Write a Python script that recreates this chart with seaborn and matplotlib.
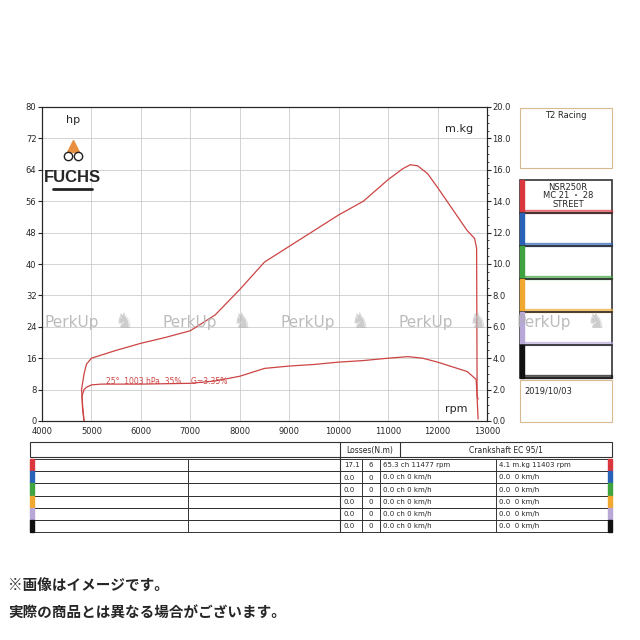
import matplotlib
matplotlib.use("Agg")
import matplotlib.pyplot as plt
import seaborn as sns
from matplotlib.patches import Rectangle

sns.set_style("white")
plt.rcParams['font.family'] = ['DejaVu Sans', 'Noto Sans CJK JP']

power_rpm = [4850, 4820, 4800, 4850, 4900, 5000, 5500, 6000, 6500, 7000, 7500, 8000, 8500, 9000, 9500,
             10000, 10500, 11000, 11300, 11450, 11600, 11800, 12000, 12300, 12600, 12750, 12790, 12800, 12820]
power_hp = [0, 4, 8, 12, 14.5, 16, 18, 19.8, 21.3, 23, 27, 33.5, 40.5, 44.5, 48.5,
            52.5, 56, 61.5, 64.3, 65.3, 65, 63, 59.5, 54, 48.5, 46.5, 44, 6, 0.5]
torque_rpm = [4850, 4820, 4810, 4850, 4900, 5000, 5200, 6000, 7000, 7500, 8000, 8500, 9000, 9500,
              10000, 10500, 11000, 11400, 11700, 12000, 12300, 12600, 12780, 12800, 12820]
torque_mkg = [0, 0.8, 1.6, 2.0, 2.15, 2.3, 2.35, 2.35, 2.4, 2.55, 2.85, 3.35, 3.5, 3.6,
              3.75, 3.85, 4.0, 4.1, 4.0, 3.75, 3.45, 3.15, 2.65, 1.6, 1.4]
rpm_ticks = list(range(4000, 13001, 1000))
hp_ticks = list(range(0, 81, 8))
mkg_ticks = [0, 2, 4, 6, 8, 10, 12, 14, 16, 18, 20]
box_colors = ['#d9363e', '#2a62b8', '#3fa33f', '#f0a830', '#b8a8d8', '#111111']
ch_col = ['65.3 ch 11477 rpm'] + ['0.0 ch 0 km/h'] * 5
mkg_col = ['4.1 m.kg 11403 rpm'] + ['0.0  0 km/h'] * 5
loss_a = ['17.1'] + ['0.0'] * 5
loss_b = ['6'] + ['0'] * 5

red = '#cc4444'
fig = plt.figure(figsize=(6.4, 6.4), dpi=100)
fig.patch.set_facecolor('white')

def fy(y):
    return 1 - y / 640

ax = fig.add_axes([42/640, fy(421), 445/640, (421-107)/640])
sns.lineplot(x=power_rpm, y=power_hp, sort=False, ax=ax, color=red, lw=0.9, estimator=None)
ax.set_xlim(4000, 13000)
ax.set_ylim(0, 80)
ax.set_xticks(rpm_ticks)
ax.set_xticks(range(4000, 13001, 100), minor=True)
ax.set_yticks(hp_ticks)
ax.grid(True, color='#cccccc', lw=0.6)
ax.tick_params(labelsize=6, length=3, pad=1)
ax.tick_params(which='minor', length=2)
for s in ax.spines.values():
    s.set_color('#333333'); s.set_linewidth(0.8)
ax2 = ax.twinx()
sns.lineplot(x=torque_rpm, y=torque_mkg, sort=False, ax=ax2, color=red, lw=0.9, estimator=None)
ax2.set_ylim(0, 20)
ax2.set_yticks(mkg_ticks)
ax2.set_yticklabels([f'{v:.1f}' for v in mkg_ticks])
ax2.set_yticks([i * 0.5 for i in range(41)], minor=True)
ax2.tick_params(labelsize=6, length=3, pad=1)
ax2.tick_params(which='minor', length=1.5)
ax.text(0.055, 0.95, 'hp', transform=ax.transAxes, fontsize=8)
ax.text(0.905, 0.92, 'm.kg', transform=ax.transAxes, fontsize=8)
ax.text(0.905, 0.03, 'rpm', transform=ax.transAxes, fontsize=8)
ax.text(5300, 9.5, '25°  1003 hPa  35%    G=3.35%', color=red, fontsize=5.5)
ax.text(4620, 61, 'FUCHS', fontsize=12, fontweight='bold', ha='center', family='Liberation Sans')
ax.plot([4230, 5010], [59.2, 59.2], color='#222222', lw=2)
ax.plot([4620], [70], marker='^', color='#e89040', ms=8)
ax.plot([4520, 4720], [67.5, 67.5], marker='o', ls='none', mfc='none', mec='#222222', ms=6)

o = fig.add_axes([0, 0, 1, 1])
o.set_xlim(0, 640); o.set_ylim(640, 0); o.axis('off'); o.patch.set_alpha(0)

def rect(x0, y0, x1, y1, ec='#555555', lw=0.8, fc='none'):
    o.add_patch(Rectangle((x0, y0), x1-x0, y1-y0, ec=ec, fc=fc, lw=lw))

rect(520, 108, 612, 168, ec='#d8b890')
o.text(566, 118, 'T2 Racing', fontsize=6, ha='center')
for i, c in enumerate(box_colors):
    y0 = 180 + i * 33
    rect(520, y0, 612, y0 + 33, ec='#333333', lw=1.2)
    o.add_patch(Rectangle((520, y0), 4, 33, color=c))
    o.add_patch(Rectangle((524, y0 + 30), 88, 3, color=c, alpha=0.6))
o.text(568, 196, 'NSR250R\nMC 21 ・ 28\nSTREET', fontsize=6, ha='center', va='center',
       family=['DejaVu Sans', 'Noto Sans CJK JP'], linespacing=0.95)
rect(520, 380, 612, 422, ec='#d8b890')
o.text(524, 393, '2019/10/03', fontsize=6)

for x in range(45, 560, 118):
    o.text(x, 322, 'PerkUp', fontsize=11, color='#b0b0b0', va='center', alpha=0.85)
    o.text(x + 70, 322, '♞', fontsize=15, color='#b8b8b8', va='center', alpha=0.7)

# table
rect(30, 442, 612, 457, ec='#333333')
o.plot([340, 340], [442, 532], color='#333333', lw=0.8)
o.plot([400, 400], [442, 457], color='#333333', lw=0.8)
o.text(370, 450, 'Losses(N.m)', fontsize=5.5, ha='center', va='center')
o.text(506, 450, 'Crankshaft EC 95/1', fontsize=5.5, ha='center', va='center')
for i, c in enumerate(box_colors):
    y0 = 459 + i * 12.2
    rect(34, y0, 612, y0 + 12.2, ec='#333333', lw=0.7)
    o.add_patch(Rectangle((30, y0), 4, 12.2, color=c))
    o.add_patch(Rectangle((608, y0), 4, 12.2, color=c))
    for xv in (188, 362, 380, 496):
        o.plot([xv, xv], [y0, y0 + 12.2], color='#333333', lw=0.7)
    yc = y0 + 6.3
    o.text(344, yc, loss_a[i], fontsize=5, va='center')
    o.text(371, yc, loss_b[i], fontsize=5, va='center', ha='center')
    o.text(383, yc, ch_col[i], fontsize=5, va='center')
    o.text(499, yc, mkg_col[i], fontsize=5, va='center')

o.text(8, 586, '※画像はイメージです。', fontsize=10.5, fontweight='bold', va='center',
       family=['Noto Sans CJK JP'])
o.text(8, 612, '実際の商品とは異なる場合がございます。', fontsize=10.5, fontweight='bold', va='center',
       family=['Noto Sans CJK JP'])

fig.savefig('out.png', dpi=100)
